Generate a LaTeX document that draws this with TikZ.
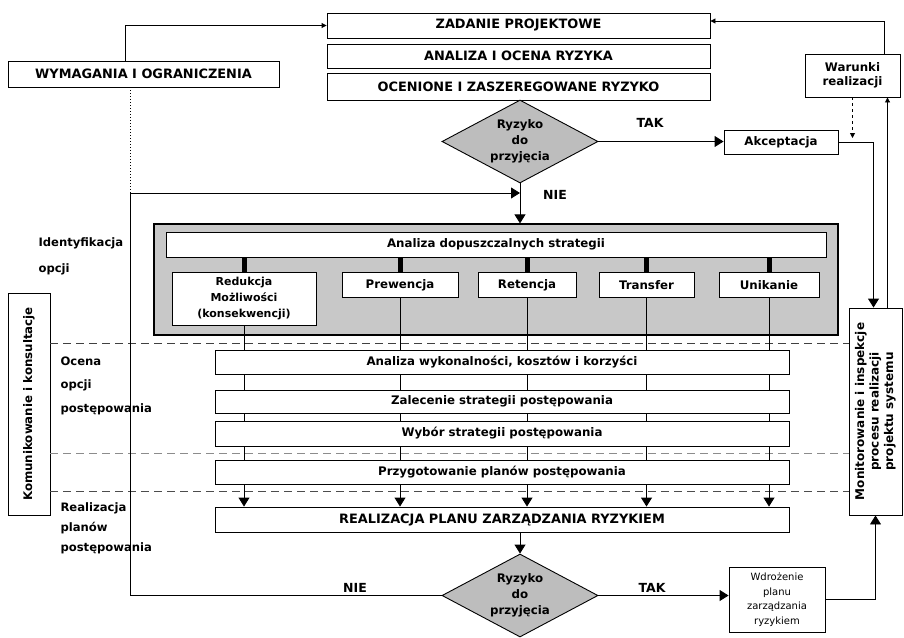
\documentclass[tikz,border=0pt]{standalone}
\usepackage{fontspec}
\setmainfont{DejaVu Sans}
\usepackage{graphicx}
\usetikzlibrary{arrows.meta,shapes.geometric}
\definecolor{panelgray}{HTML}{C8C8C8}
\definecolor{diagray}{HTML}{BDBDBD}
\tikzset{
  box/.style={draw,fill=white,line width=0.9pt,inner sep=1pt,align=center,font=\bfseries\fontsize{11.8}{14}\selectfont},
  capbox/.style={box,font=\bfseries\fontsize{12.9}{15}\selectfont},
  decide/.style={diamond,draw,fill=diagray,line width=0.9pt,aspect=1.88,inner sep=0pt,minimum width=156pt,minimum height=83pt,align=center,font=\bfseries\fontsize{11.8}{16}\selectfont},
  lab/.style={anchor=west,align=left,font=\bfseries\fontsize{11.6}{24}\selectfont},
  txt/.style={font=\bfseries\fontsize{12.5}{14}\selectfont},
  arr/.style={-{Triangle[length=9pt,width=11pt]},line width=0.9pt},
  sarr/.style={-{Triangle[length=5pt,width=5pt]},line width=0.9pt},
  sep/.style={dash pattern=on 8pt off 5pt,line width=1pt},
}

\begin{document}
\begin{tikzpicture}[x=1pt,y=-1pt]
\useasboundingbox (0,0) rectangle (904,637);
% assessment at the top
\node[capbox,minimum width=383pt,minimum height=25pt] (zad) at (518.5,25.5) {ZADANIE PROJEKTOWE};
\node[capbox,minimum width=383pt,minimum height=24pt] (ana) at (518.5,56) {ANALIZA I OCENA RYZYKA};
\node[capbox,minimum width=383pt,minimum height=27pt] (oce) at (518.5,86.5) {OCENIONE I ZASZEREGOWANE RYZYKO};
\node[capbox,minimum width=271pt,minimum height=26pt] (wym) at (143.5,74) {WYMAGANIA I OGRANICZENIA};
\node[box,minimum width=95pt,minimum height=43pt] (war) at (852.5,75.5) {Warunki\\realizacji};
\node[decide] (dia1) at (520,141.5) {Ryzyko\\do\\przyjęcia};
\node[box,minimum width=114pt,minimum height=24pt] (akc) at (781,142) {Akceptacja};
\node[txt] (tak1) at (650,123) {TAK};
\node[txt] (nie1) at (555,195) {NIE};
\coordinate (lp) at (130,193);
\coordinate (wt) at (852.5,138);
% options
\node[draw,fill=panelgray,line width=1.2pt,minimum width=684pt,minimum height=111pt] (opt) at (496,279.5) {};
\node[box,minimum width=660pt,minimum height=25pt] (ads) at (496,244.5) {Analiza dopuszczalnych strategii};
\node[box,anchor=north,minimum width=144pt,minimum height=53pt,font=\bfseries\fontsize{11}{16}\selectfont] (red) at (244,272) {Redukcja\\Możliwości\\(konsekwencji)};
\foreach \n/\x/\w/\t in {pre/400/116/Prewencja,ret/527/98/Retencja,tra/646.5/95/Transfer,uni/769/100/Unikanie}
  \node[box,anchor=north,minimum width=\w pt,minimum height=25pt] (\n) at (\x,272) {\t};
% steps
\foreach \n/\y/\h/\t in {aw/362/24/{Analiza wykonalności, kosztów i korzyści},zs/401.5/23/{Zalecenie strategii postępowania},ws/433.5/25/{Wybór strategii postępowania},pp/472/24/{Przygotowanie planów postępowania}}
  \node[box,minimum width=574pt,minimum height=\h pt] (\n) at (502,\y) {\t};
\node[capbox,minimum width=574pt,minimum height=25pt] (real) at (502,519.5) {REALIZACJA PLANU ZARZĄDZANIA RYZYKIEM};
\node[decide] (dia2) at (520,595.5) {Ryzyko\\do\\przyjęcia};
\node[txt] (tak2) at (652,588) {TAK};
\node[txt] (nie2) at (355,588) {NIE};
\node[box,minimum width=96pt,minimum height=65pt,font=\fontsize{10}{14.5}\selectfont] (wdr) at (777,599.5) {Wdrożenie\\planu\\zarządzania\\ryzykiem};
% side boxes
\node[box,minimum width=53pt,minimum height=207pt,font=\bfseries\fontsize{12}{15.5}\selectfont] (mon) at (875.5,411.5) {\rotatebox{90}{\begin{tabular}{@{}c@{}}Monitorowanie i inspekcje\\[-1pt]procesu realizacji\\[-1pt]projektu systemu\end{tabular}}};
\node[box,minimum width=42pt,minimum height=222pt,font=\bfseries\fontsize{11.8}{14}\selectfont] (kom) at (29,404) {\rotatebox{90}{Komunikowanie i konsultacje}};
\node[lab,font=\bfseries\fontsize{11.6}{26}\selectfont] (lid) at (35,256) {Identyfikacja\\opcji};
\node[lab,font=\bfseries\fontsize{11.6}{23.5}\selectfont] (loc) at (57,385.5) {Ocena\\opcji\\postępowania};
\node[lab,font=\bfseries\fontsize{11.6}{20}\selectfont] (lre) at (57,528) {Realizacja\\planów\\postępowania};
% separators
\foreach \y/\c in {343/black!75,453/black!45,491/black!70}
  {\coordinate (d) at (0,\y); \draw[sep,\c] (kom.east |- d) -- (mon.west |- d);}
% connectors
\draw[sarr] ([xshift=-18.5pt]wym.north) |- (zad.west);
\draw[dotted,line width=1pt] (wym.south -| lp) -- (lp);
\draw[arr] (dia2.west) -| (lp) -- (lp -| dia1.south);
\draw[arr] (dia1.south) -- (dia1.south |- opt.north);
\draw[arr] (dia1.east) -- (dia1.east -| akc.west);
\draw[arr] (akc.east) -| ([xshift=-2pt]mon.north);
\draw[sarr] ([xshift=12pt]mon.north) -- ([xshift=12pt]mon.north |- war.south);
\draw[sarr,dashed] (war.south) -- (wt);
\draw[sarr] ([xshift=31.5pt]war.north) |- ([yshift=4.5pt]zad.east);
\foreach \c in {red,pre,ret,tra,uni}{
  \draw[line width=5pt] (\c.north |- ads.south) -- (\c.north);
  \draw[line width=0.9pt] (\c.south) -- (\c.south |- aw.north);
  \foreach \r/\s in {aw/zs,zs/ws,ws/pp}
    \draw[line width=0.9pt] (\c.south |- \r.south) -- (\c.south |- \s.north);
  \draw[arr] (\c.south |- pp.south) -- (\c.south |- real.north);
}
\draw[arr] (dia2.north |- real.south) -- (dia2.north);
\draw[arr] (dia2.east) -- (dia2.east -| wdr.west);
\draw[arr] (wdr.east) -| (mon.south);
\end{tikzpicture}
\end{document}
